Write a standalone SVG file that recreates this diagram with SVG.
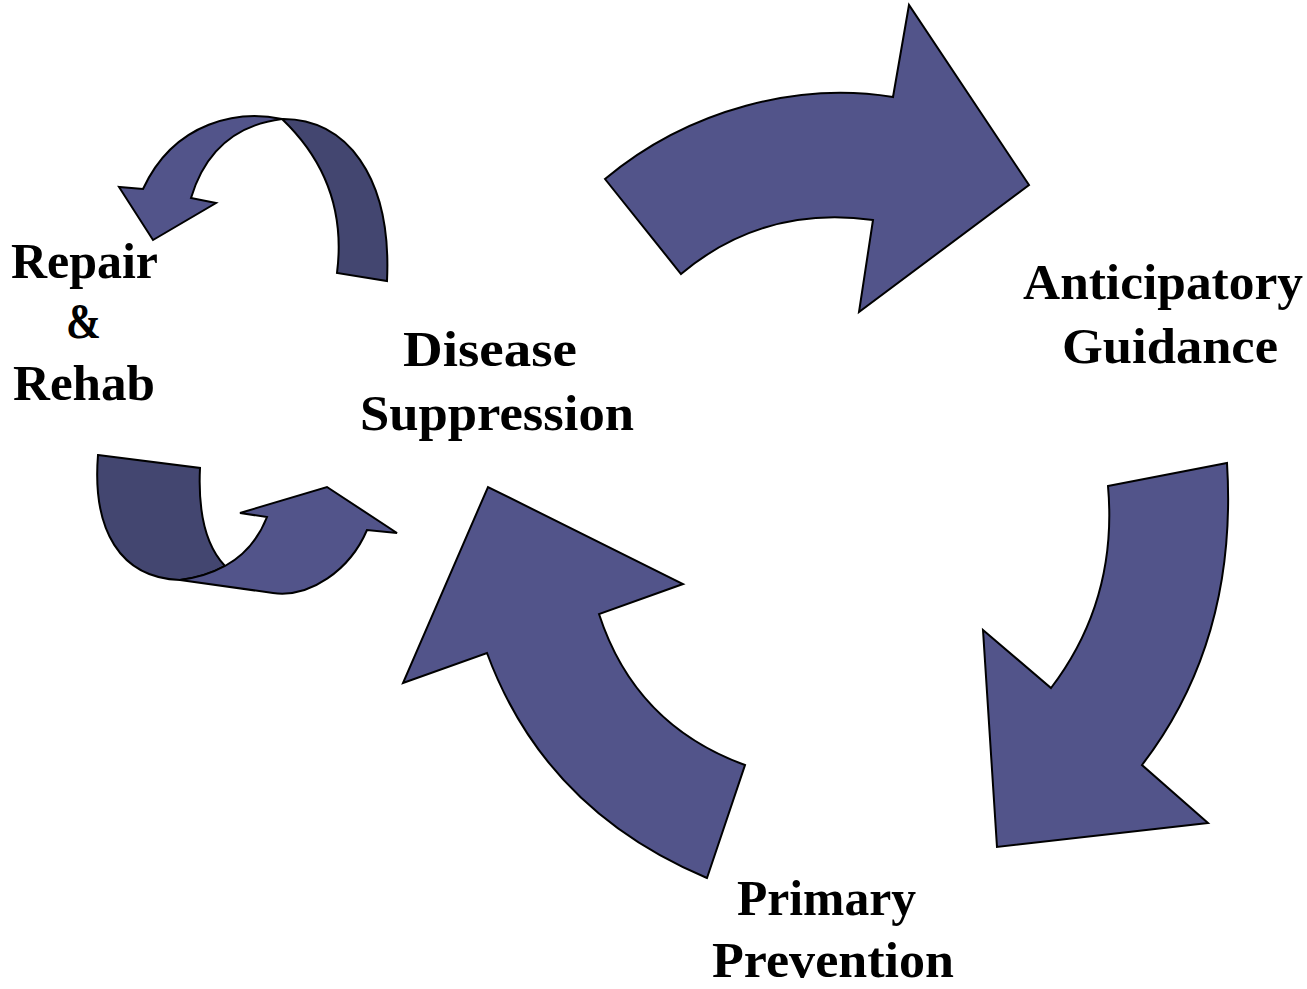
<svg xmlns="http://www.w3.org/2000/svg" width="1307" height="989" viewBox="0 0 1307 989">
<style>
.arrow{fill:#52548a;stroke:#000;stroke-width:2;stroke-linejoin:miter}
.dark{fill:#434670;stroke:#000;stroke-width:2}
.lbl{font-family:"Liberation Serif","Times New Roman",serif;font-weight:bold;font-size:50px;fill:#000;text-anchor:middle}
</style>
<rect width="1307" height="989" fill="#fff"/>
<g id="connectors">
<path id="arrow-top" class="arrow" d="M605,179 C690,108 800,82 893,97 L909,5 L1029,185 L859,312 L873,220 Q763,205 681,274 Z"/>
<path id="arrow-right" class="arrow" d="M1108,486 L1227,463 Q1238,640 1142,765 L1208,823 L997,847 L983,630 L1051,688 Q1118,600 1108,486 Z"/>
<path id="arrow-bottom" class="arrow" d="M707,878 Q545,810 487,653 L403,683 L488,487 L683,584 L599,614 Q635,725 745,765 Z"/>
<g id="arrow-small-top">
<path class="dark" d="M282,119 C345,118 392,175 387,281 L337,273 C345,210 325,160 282,119 Z"/>
<path class="arrow" d="M282,119 C240,110 175,120 143,189 L119,187 L153,240 L216,203 L191,198 Q212,128 282,119 Z"/>
</g>
<g id="arrow-small-bottom">
<path class="dark" d="M98,455 L200,468 C198,510 205,545 225,566 Q205,577 180,580 C120,578 92,530 98,455 Z"/>
<path class="arrow" d="M180,580 L273,593 C310,598 350,570 367,530 L397,533 L327,487 L240,513 L267,517 C258,540 243,556 225,566 Q205,577 180,580 Z"/>
</g>
</g>
<g id="node-disease">
<text class="lbl" x="490" y="366" textLength="174" lengthAdjust="spacingAndGlyphs">Disease</text>
<text class="lbl" x="497" y="430" textLength="274" lengthAdjust="spacingAndGlyphs">Suppression</text>
</g>
<g id="node-anticipatory">
<text class="lbl" x="1163" y="299" textLength="280" lengthAdjust="spacingAndGlyphs">Anticipatory</text>
<text class="lbl" x="1170" y="363" textLength="216" lengthAdjust="spacingAndGlyphs">Guidance</text>
</g>
<g id="node-primary">
<text class="lbl" x="826.5" y="915" textLength="179" lengthAdjust="spacingAndGlyphs">Primary</text>
<text class="lbl" x="833" y="977" textLength="242" lengthAdjust="spacingAndGlyphs">Prevention</text>
</g>
<g id="node-repair">
<text class="lbl" x="84.5" y="278" textLength="147" lengthAdjust="spacingAndGlyphs">Repair</text>
<text class="lbl" x="83.5" y="338" textLength="35" lengthAdjust="spacingAndGlyphs">&amp;</text>
<text class="lbl" x="84" y="400" textLength="142" lengthAdjust="spacingAndGlyphs">Rehab</text>
</g>
</svg>
